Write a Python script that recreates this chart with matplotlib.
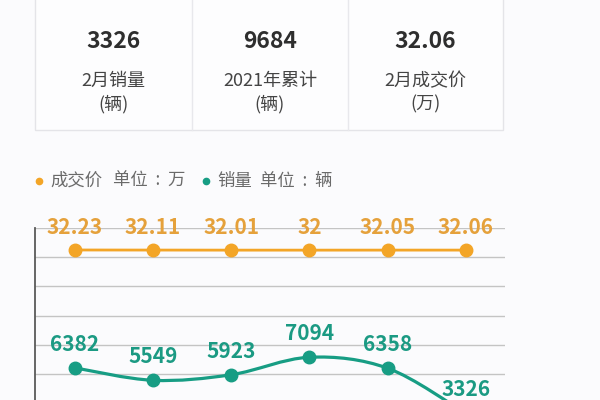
import numpy as np
import matplotlib
matplotlib.use("Agg")
import matplotlib.pyplot as plt
from matplotlib.path import Path
from matplotlib.patches import PathPatch, Rectangle
from matplotlib.lines import Line2D

plt.rcParams['font.family'] = ['Noto Sans CJK SC', 'DejaVu Sans']

# data
months = ['9月', '10月', '11月', '12月', '1月', '2月']
price = [32.23, 32.11, 32.01, 32, 32.05, 32.06]
sales = [6382, 5549, 5923, 7094, 6358, 3326]
card_values = ['3326', '9684', '32.06']
card_titles = ['2月销量', '2021年累计', '2月成交价']
card_units = ['(辆)', '(辆)', '(万)']
legend_names = ['成交价', '销量']
legend_units = ['单位  :  万', '单位  :  辆']

ORANGE = '#f3a527'
ORANGE_TXT = '#e5a13b'
TEAL = '#179d84'
TEAL_TXT = '#1b9a83'

W, H = 600, 400
fig = plt.figure(figsize=(6, 4), dpi=100, facecolor='#fbfbfd')

def fx(px):
    return px / W

def fy(py):
    return 1 - py / H

# summary cards
card_left, card_right, card_bottom = 35, 503, 130
edges = [card_left, 192, 348, card_right]
fig.add_artist(Rectangle((fx(card_left), fy(card_bottom)), fx(card_right - card_left),
                         1.1, transform=fig.transFigure, facecolor='#fdfdfe',
                         edgecolor='#e4e4e8', lw=1))
for e in edges[1:-1]:
    fig.add_artist(Line2D([fx(e), fx(e)], [fy(card_bottom), 1.0], transform=fig.transFigure,
                          color='#e8e8ec', lw=1))
for i in range(3):
    cx = fx((edges[i] + edges[i + 1]) / 2)
    fig.text(cx, fy(42), card_values[i], ha='center', va='center', fontsize=16.5,
             fontweight='bold', color='#2e2e2e')
    fig.text(cx, fy(81), card_titles[i], ha='center', va='center', fontsize=13,
             color='#444444')
    fig.text(cx, fy(104), card_units[i], ha='center', va='center', fontsize=13,
             color='#444444')

# legend
leg = [(39, 50, 113, ORANGE), (206, 217, 260, TEAL)]
for (dx, nx, ux, c), name, unit in zip(leg, legend_names, legend_units):
    fig.add_artist(Line2D([fx(dx)], [fy(181)], marker='o', markersize=4.5, color=c,
                          transform=fig.transFigure, lw=0))
    fig.text(fx(nx), fy(181), name, ha='left', va='center', fontsize=12.5, color='#6a6a6a')
    fig.text(fx(ux), fy(181), unit, ha='left', va='center', fontsize=12.5, color='#6a6a6a')

# chart area (bottom is cut off by the image edge)
top_px, step_px = 228, 29.2
bot_px = top_px + 7 * step_px
ax = fig.add_axes([fx(35), fy(bot_px), fx(505 - 35), (bot_px - top_px) / H])
ax.set_facecolor('none')
ax.set_ylim(0, 7)
ax.set_yticks(range(8))
ax.set_xlim(-0.51, 5.5)
ax.set_xticks([])
ax.grid(axis='y', color='#c4c4c4', lw=1)
for s in ['top', 'right', 'bottom']:
    ax.spines[s].set_visible(False)
ax.spines['left'].set_color('#5a5a5a')
ax.spines['left'].set_linewidth(1.3)

x = np.arange(len(months))

axp = ax.twinx()
axp.set_ylim(-235.5, 64.5)
axp.set_xlim(-0.51, 5.5)
axp.axis('off')
axp.plot(x, price, color=ORANGE, lw=2, marker='o', markersize=9, zorder=3)
for xi, v in zip(x, price):
    axp.annotate('%g' % v, (xi, v), xytext=(0, 16), textcoords='offset points',
                 ha='center', va='center', fontsize=15, fontweight='bold', color=ORANGE_TXT)

axs = ax.twinx()
axs.set_ylim(2057, 15757)
axs.set_xlim(-0.51, 5.5)
axs.axis('off')
pts = np.column_stack([x, sales]).astype(float)
verts = [pts[0]]
codes = [Path.MOVETO]
for i in range(len(pts) - 1):
    p0 = pts[max(i - 1, 0)]
    p1 = pts[i]
    p2 = pts[i + 1]
    p3 = pts[min(i + 2, len(pts) - 1)]
    verts += [p1 + (p2 - p0) / 6, p2 - (p3 - p1) / 6, p2]
    codes += [Path.CURVE4] * 3
axs.add_patch(PathPatch(Path(verts, codes), facecolor='none', edgecolor=TEAL, lw=2.3))
axs.plot(x, sales, lw=0, marker='o', markersize=9, color=TEAL, zorder=3)
for xi, v in zip(x, sales):
    axs.annotate(str(v), (xi, v), xytext=(0, 17), textcoords='offset points',
                 ha='center', va='center', fontsize=15, fontweight='bold', color=TEAL_TXT)

# twinx turns the left ticks back on
ax.tick_params(left=False, labelleft=False, right=False, labelright=False)

fig.savefig('out.png', dpi=100, facecolor=fig.get_facecolor())
